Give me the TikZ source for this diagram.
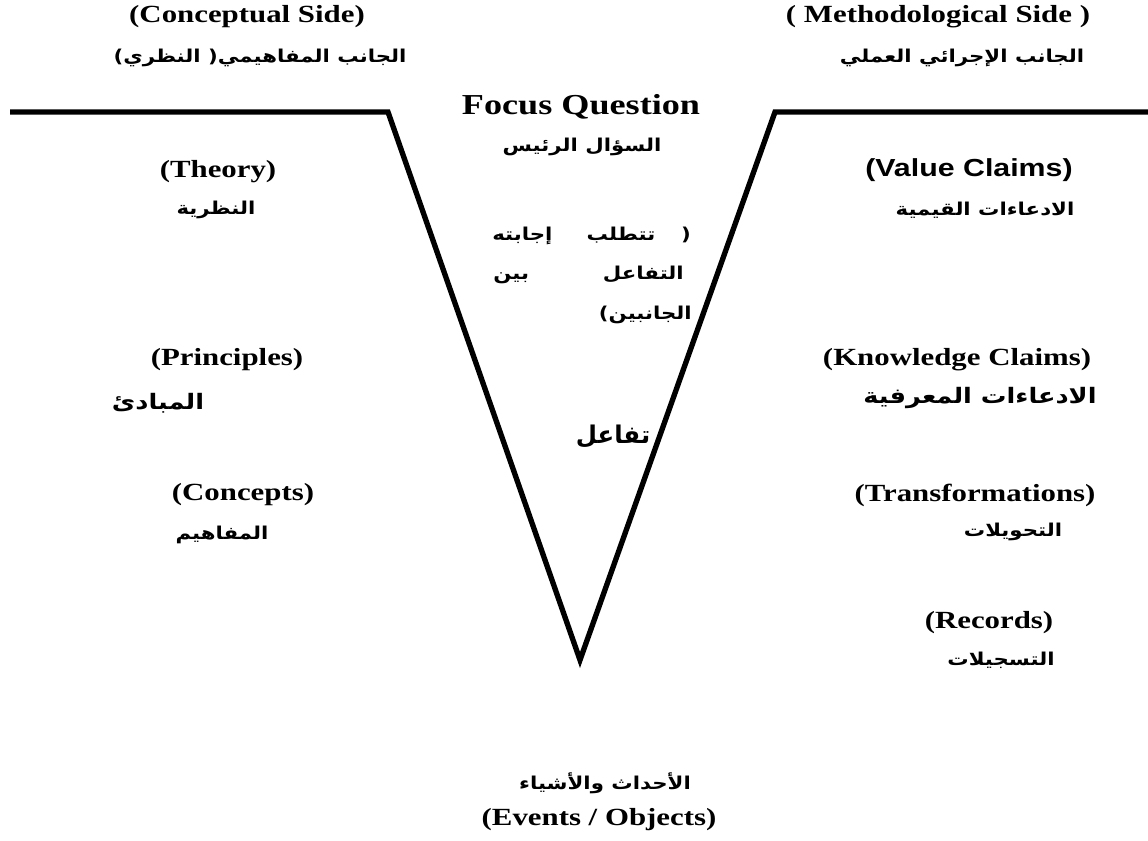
\documentclass[tikz,border=0pt]{standalone}
\usepackage{fontspec}
\usepackage{tikz}
\newfontfamily\serifwide[FakeStretch=1.25]{Liberation Serif}
\newfontfamily\sanswide[FakeStretch=1.23]{Liberation Sans}
\newfontfamily\arabicfont[Script=Arabic, FakeStretch=1.2]{DejaVu Sans}
\newfontfamily\arabicplain[Script=Arabic]{DejaVu Sans}
\TeXXeTstate=1

\tikzset{
  entext/.style={inner sep=0pt, font=\serifwide\bfseries\fontsize{18.5}{20}\selectfont},
  ensans/.style={inner sep=0pt, font=\sanswide\bfseries\fontsize{18.5}{20}\selectfont},
  arsmall/.style={inner sep=0pt, font=\arabicfont\bfseries\fontsize{13.3}{15}\selectfont},
  arbig/.style={inner sep=0pt, font=\arabicfont\bfseries\fontsize{16}{18}\selectfont},
  vline/.style={line width=4pt, miter limit=20}
}

\begin{document}
\begin{tikzpicture}[x=0.75pt, y=-0.75pt]
  \useasboundingbox (0,0) rectangle (1148,841);

  % the V and the two arms
  \coordinate (armL) at (10,112);
  \coordinate (topL) at (388,112);
  \coordinate (tip) at (580,660);
  \coordinate (topR) at (775,112);
  \coordinate (armR) at (1148,112);
  \draw[vline] (armL) -- (topL) -- (tip) -- (topR) -- (armR);

  % headings of the two sides
  \node[entext] (conc) at (247,17) {(Conceptual Side)};
  \node[arsmall] (concAr) at (260,58) {\beginR الجانب المفاهيمي( النظري)\endR};
  \node[entext] (meth) at (938,17) {( Methodological Side )};
  \node[arsmall] (methAr) at (962,58) {\beginR الجانب الإجرائي العملي\endR};

  % focus question
  \node[entext, font=\serifwide\bfseries\fontsize{21.7}{23}\selectfont] (focus) at (581,107) {Focus Question};
  \node[arsmall] (focusAr) at (582,147) {\beginR السؤال الرئيس\endR};
  \node[arsmall, anchor=base east] (q1) at (691,241) {(};
  \node[arsmall, anchor=base] (q2) at (621,241) {\beginR تتطلب\endR};
  \node[arsmall, anchor=base west] (q3) at (492,241) {\beginR إجابته\endR};
  \node[arsmall, anchor=base east] (q4) at (684,280) {\beginR التفاعل\endR};
  \node[arsmall, anchor=base west] (q5) at (493,280) {\beginR بين\endR};
  \node[arsmall, anchor=base east] (q6) at (692,320) {\beginR الجانبين)\endR};

  % conceptual side
  \node[entext] (theory) at (218,172) {(Theory)};
  \node[arsmall] (theoryAr) at (216,210) {\beginR النظرية\endR};
  \node[entext] (princ) at (227,360) {(Principles)};
  \node[arbig] (princAr) at (158,403) {\beginR المبادئ\endR};
  \node[entext] (concepts) at (243,495) {(Concepts)};
  \node[arsmall] (conceptsAr) at (222,535) {\beginR المفاهيم\endR};

  % methodological side
  \node[ensans] (value) at (969,170) {(Value Claims)};
  \node[arsmall] (valueAr) at (985,210) {\beginR الادعاءات القيمية\endR};
  \node[entext] (know) at (957,360) {(Knowledge Claims)};
  \node[arbig] (knowAr) at (980,398) {\beginR الادعاءات المعرفية\endR};
  \node[entext] (trans) at (975,495) {(Transformations)};
  \node[arsmall] (transAr) at (1013,532) {\beginR التحويلات\endR};
  \node[entext] (records) at (989,623) {(Records)};
  \node[arsmall] (recordsAr) at (1001,660) {\beginR التسجيلات\endR};

  % interaction and the base of the V
  \node[arbig, font=\arabicplain\bfseries\fontsize{18.3}{21}\selectfont] (inter) at (613,436) {\beginR تفاعل\endR};
  \node[arsmall] (eventsAr) at (605,783) {\beginR الأحداث والأشياء\endR};
  \node[entext] (events) at (599,820) {(Events / Objects)};
\end{tikzpicture}
\end{document}
